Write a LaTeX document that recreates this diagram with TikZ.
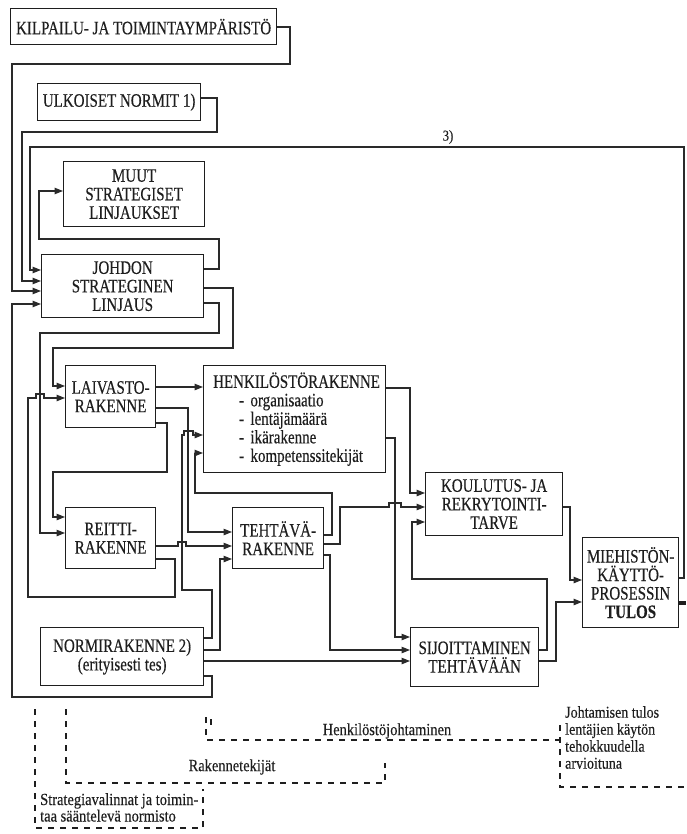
\documentclass[tikz,border=0pt]{standalone}
\usepackage{fontspec}
\usetikzlibrary{arrows.meta}
\newfontfamily\boxfont[FakeStretch=0.79,FakeBold=0.35]{Liberation Serif}
\newfontfamily\notefont[FakeStretch=0.85,FakeBold=0.25]{Liberation Serif}
\definecolor{ink}{HTML}{1E1E1E}
\definecolor{wire}{HTML}{2A2A2A}
\tikzset{
  bx/.style={draw=ink, line width=1.3pt, anchor=north west, inner sep=0pt,
    align=center, text=ink, font=\boxfont\fontsize{19}{18.5}\selectfont},
  ar/.style={draw=wire, line width=1.1pt, -{Triangle[length=8.5pt,width=6.5pt]}},
  dsh/.style={draw=ink, line width=1.3pt, dash pattern=on 6pt off 6pt},
  note/.style={text=ink, font=\notefont\fontsize{17}{16.5}\selectfont, inner sep=0pt}
}
\begin{document}
\begin{tikzpicture}[x=1pt,y=-1pt]
\useasboundingbox (0,0) rectangle (686,834);

% boxes
\node[bx, minimum width=266pt, minimum height=36pt] (kil) at (10,8) {KILPAILU- JA TOIMINTAYMPÄRISTÖ};
\node[bx, minimum width=163pt, minimum height=37pt] (ulk) at (37,83) {ULKOISET NORMIT 1)};
\node[bx, minimum width=141pt, minimum height=65pt] (muut) at (63,161) {MUUT\\STRATEGISET\\LINJAUKSET};
\node[bx, minimum width=162pt, minimum height=63pt] (joh) at (41,254) {JOHDON\\STRATEGINEN\\LINJAUS};
\node[bx, minimum width=90pt, minimum height=62pt] (lai) at (65,365) {LAIVASTO-\\RAKENNE};
\node[bx, minimum width=182pt, minimum height=107pt, align=left, text width=175pt] (hen) at (203,365)
  {\hspace*{6pt}HENKILÖSTÖRAKENNE\\
   \hspace*{32pt}- organisaatio\\
   \hspace*{32pt}- lentäjämäärä\\
   \hspace*{32pt}- ikärakenne\\
   \hspace*{32pt}- kompetenssitekijät};
\node[bx, minimum width=90pt, minimum height=61pt] (rei) at (65,507) {REITTI-\\RAKENNE};
\node[bx, minimum width=91pt, minimum height=61pt] (teh) at (232,507) {TEHTÄVÄ-\\RAKENNE};
\node[bx, minimum width=137pt, minimum height=63pt] (kou) at (425,472) {KOULUTUS- JA\\REKRYTOINTI-\\TARVE};
\node[bx, minimum width=96pt, minimum height=90pt] (mie) at (582,537) {MIEHISTÖN-\\KÄYTTÖ-\\PROSESSIN\\\textbf{TULOS}};
\node[bx, minimum width=163pt, minimum height=58pt] (nor) at (40,627) {NORMIRAKENNE 2)\\(erityisesti tes)};
\node[bx, minimum width=128pt, minimum height=59pt] (sij) at (410,627) {SIJOITTAMINEN\\TEHTÄVÄÄN};

% inputs of the strategic line
\draw[ar] (kil.east |- 0,27) -| (290,64) -| (12,291) -- (joh.west |- 0,291);
\draw[ar] (ulk.east |- 0,98) -| (217,132) -| (22,281) -- (joh.west |- 0,281);
\draw[ar] (mie.east |- 0,578) -| (684,147) -| (30,270) -- (joh.west |- 0,270);
\node[note, font=\notefont\fontsize{15}{15}\selectfont] (fb) at (448,137) {3)};
\draw[ar] (nor.east |- 0,676) -| (212,697) -| (12,304) -- (joh.west |- 0,304);

% outputs of the strategic line
\draw[ar] (joh.east |- 0,269) -| (219,239) -| (39,191) -- (muut.west |- 0,191);
\draw[ar] (joh.east |- 0,288) -| (233,348) -| (53,386) -- (lai.west |- 0,386);
\draw[ar] (joh.east |- 0,303) -| (219,333) -| (40,533) -- (rei.west |- 0,533);

% fleet structure
\draw[ar] (lai.east |- 0,387) -- (hen.west |- 0,387);
\draw[ar] (lai.east |- 0,408) -| (188,532) -- (teh.west |- 0,532);
\draw[ar] (lai.east |- 0,423) -| (167,472) -| (53,517) -- (rei.west |- 0,517);

% route structure
\draw[ar] (rei.east |- 0,559) -| (175,597) -| (28,398) -- (36,398) -- (36,394) -- (44,394) -- (44,398) -- (lai.west |- 0,398);
\draw[ar] (rei.east |- 0,546) -- (178,546) -- (178,542) -- (186,542) -- (186,546) -- (teh.west |- 0,546);

% norm structure
\draw[ar] (nor.east |- 0,638) -| (212,590) -| (182,435) -- (184,435) -- (184,431) -- (193,431) -- (193,435) -- (hen.west |- 0,435);
\draw[ar] (nor.east |- 0,650) -| (220,559) -- (teh.west |- 0,559);
\draw[ar] (nor.east |- 0,661) -- (sij.west |- 0,661);

% task structure
\draw[ar] (teh.east |- 0,535) -| (332,493) -| (195,453) -- (hen.west |- 0,453);
\draw[ar] (teh.east |- 0,544) -| (340,507) -- (389,507) -- (389,503) -- (401,503) -- (401,507) -- (kou.west |- 0,507);
\draw[ar] (teh.east |- 0,555) -| (330,650) -- (sij.west |- 0,650);

% personnel structure
\draw[ar] (hen.east |- 0,388) -| (410,493) -- (kou.west |- 0,493);
\draw[ar] (hen.east |- 0,438) -| (395,637) -- (sij.west |- 0,637);

% placement and training
\draw[ar] (sij.east |- 0,650) -| (547,579) -| (412,522) -- (kou.west |- 0,522);
\draw[ar] (kou.east |- 0,507) -| (570,580) -- (mie.west |- 0,580);
\draw[ar] (sij.east |- 0,661) -| (556,602) -- (mie.west |- 0,602);
\coordinate (out) at (686,603);
\draw[draw=ink, line width=4pt] (mie.east |- out) -- (out);

% brackets of the management levels
\draw[dsh] (206,717) -- (206,740) -- (560,740);
\draw[draw=ink, line width=1.2pt] (211,719) -- (211,725);
\draw[dsh] (560,725) -- (560,787) -- (686,787);
\node[note, anchor=center] (hj) at (387,731) {Henkilöstöjohtaminen};
\node[note, anchor=north west, align=left, font=\notefont\fontsize{16.5}{17}\selectfont] (jt) at (565,706)
  {Johtamisen tulos\\lentäjien käytön\\tehokkuudella\\arvioituna};
\draw[dsh] (66,709) -- (66,783) -- (385,783) -- (385,763);
\node[note] (rk) at (232,767) {Rakennetekijät};
\draw[dsh] (35,709) -- (35,828) -- (203,828) -- (203,789);
\node[note, anchor=north west, align=left] (sv) at (40,793)
  {Strategiavalinnat ja toimin-\\taa sääntelevä normisto};
\end{tikzpicture}
\end{document}
